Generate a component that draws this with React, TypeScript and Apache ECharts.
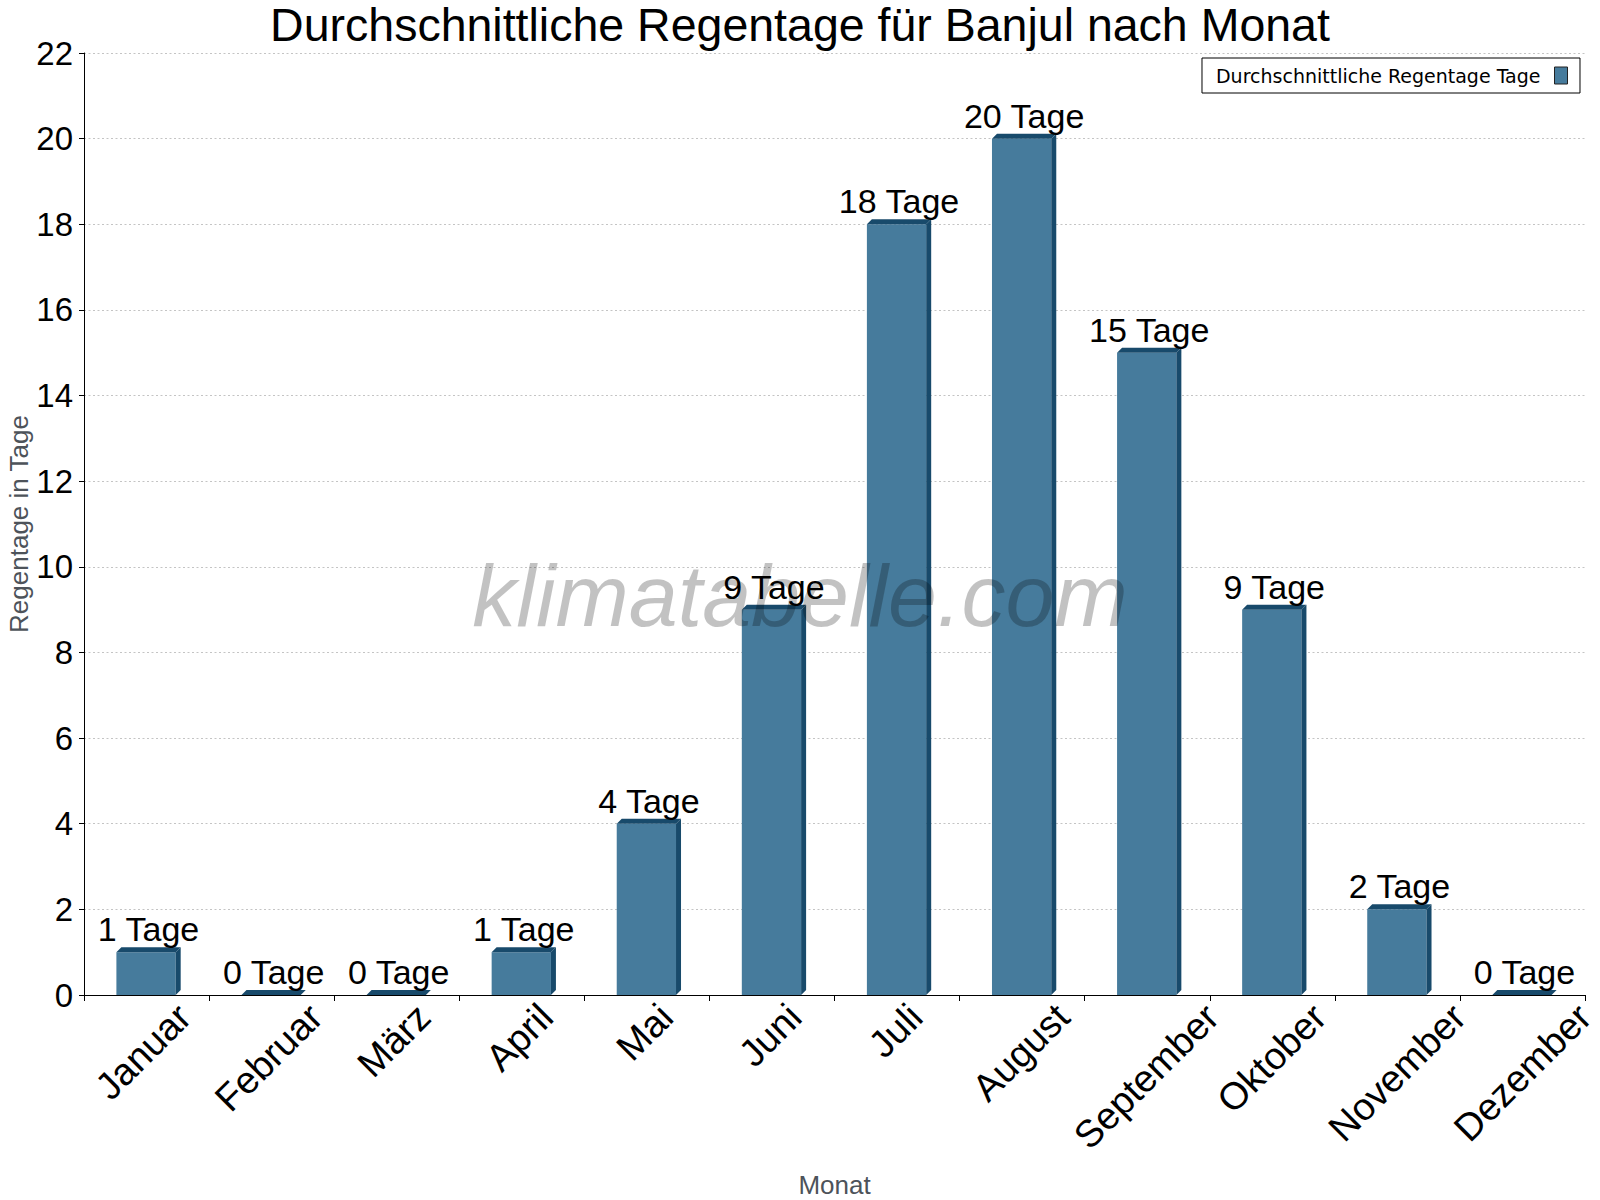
import React, { useEffect, useRef } from 'react';
import * as echarts from 'echarts';

const TITLE = 'Durchschnittliche Regentage für Banjul nach Monat';
const MONTHS = ['Januar', 'Februar', 'März', 'April', 'Mai', 'Juni', 'Juli', 'August', 'September', 'Oktober', 'November', 'Dezember'];
const RAIN_DAYS = [1, 0, 0, 1, 4, 9, 18, 20, 15, 9, 2, 0];
const UNIT = 'Tage';
const SERIES_NAME = 'Durchschnittliche Regentage Tage';
const Y_NAME = 'Regentage in Tage';
const X_NAME = 'Monat';
const WATERMARK = 'klimatabelle.com';
const Y_MIN = 0;
const Y_MAX = 22;
const Y_STEP = 2;

const FONT = '"Liberation Sans", Arial, sans-serif';
const FRONT = '#467b9c';
const DARK = '#184a6b';
const XLABEL_FS = 38;
const DATA_FS = 34;
const LABEL_MARGIN = -64;
const DEPTH = 5;

function measure(text: string, fs: number): number {
  const c = document.createElement('canvas').getContext('2d');
  if (!c) return text.length * fs * 0.55;
  c.font = `${fs}px "Liberation Sans"`;
  return c.measureText(text).width;
}

export default function App() {
  const ref = useRef<HTMLDivElement>(null);

  useEffect(() => {
    document.body.style.margin = '0';
    const chart = echarts.init(ref.current as HTMLDivElement, null, { renderer: 'svg' });

    // per-label offsets so that each rotated label sits like in the reference
    const rich: Record<string, any> = {};
    const xh = 0.1725 * XLABEL_FS * 0.7071;
    MONTHS.forEach((m, i) => {
      const tw = measure(m, XLABEL_FS);
      const DX = 7 + 0.3 * i + 0.354 * tw + xh - 15;
      const DY = 14 + xh - 3 - LABEL_MARGIN;
      const pr = Math.max(0, 0.7071 * (DY - DX));
      const pt = Math.max(0, 0.7071 * (DX + DY) - XLABEL_FS / 2);
      rich['m' + i] = {
        fontSize: XLABEL_FS,
        fontFamily: FONT,
        color: '#000',
        padding: [pt, pr, 0, 0],
      };
    });

    const renderItem = (params: any, api: any) => {
      const idx = api.value(0);
      const v = api.value(1);
      const base = api.coord([idx, 0]);
      const top = api.coord([idx, v]);
      const band = api.size([1, 0])[0];
      const w = band * 0.474;
      const x0 = base[0] - w / 2 - 0.5;
      const x1 = x0 + w;
      const yb = base[1];
      const yt = top[1];
      const d = DEPTH;
      const children: any[] = [];
      if (v > 0) {
        children.push({
          type: 'rect',
          shape: { x: x0, y: yt, width: w, height: yb - yt },
          style: { fill: FRONT },
        });
        children.push({
          type: 'polygon',
          shape: { points: [[x1, yt], [x1 + d, yt - d], [x1 + d, yb - d], [x1, yb]] },
          style: { fill: DARK },
        });
      }
      children.push({
        type: 'polygon',
        shape: { points: [[x0, yt], [x0 + d, yt - d], [x1 + d, yt - d], [x1, yt]] },
        style: { fill: DARK },
      });
      children.push({
        type: 'text',
        style: {
          text: `${v} ${UNIT}`,
          x: x0 + (w + d) / 2,
          y: yt - d - 6.3 - 0.3465 * DATA_FS,
          align: 'center',
          verticalAlign: 'middle',
          fontSize: DATA_FS,
          fontFamily: FONT,
          fill: '#000',
        },
      });
      return { type: 'group', children };
    };

    chart.setOption({
      animation: false,
      backgroundColor: '#ffffff',
      title: {
        text: TITLE,
        left: 'center',
        top: 1,
        padding: 0,
        textStyle: { fontSize: 46.5, fontWeight: 'normal', fontFamily: FONT, color: '#000' },
      },
      legend: {
        data: [{ name: SERIES_NAME, icon: 'rect' }],
        right: 20,
        top: 58,
        orient: 'horizontal',
        align: 'right',
        padding: [8, 12, 8, 14],
        borderColor: '#000',
        borderWidth: 1,
        itemWidth: 13,
        itemHeight: 17,
        itemStyle: { borderColor: '#222', borderWidth: 1 },
        textStyle: { fontSize: 19, fontFamily: '"DejaVu Sans", sans-serif', color: '#000', padding: [0, 9, 0, 0] },
      },
      grid: { left: 84, right: 15, top: 53, bottom: 205, containLabel: false, outerBoundsMode: 'none' },
      xAxis: {
        type: 'category',
        data: MONTHS,
        boundaryGap: true,
        name: X_NAME,
        nameLocation: 'middle',
        nameGap: 177,
        nameMoveOverlap: false,
        nameTextStyle: { fontSize: 26, fontFamily: FONT, color: '#4d535a' },
        axisLine: { show: true, lineStyle: { color: '#000', width: 1 } },
        axisTick: { show: true, length: 6, interval: 0, lineStyle: { color: '#000', width: 1 } },
        axisLabel: {
          interval: 0,
          rotate: 45,
          align: 'right',
          verticalAlign: 'top',
          margin: LABEL_MARGIN,
          hideOverlap: false,
          fontSize: XLABEL_FS,
          fontFamily: FONT,
          color: '#000',
          formatter: (val: string, i: number) => `{m${i}|${val}}`,
          rich,
        },
        splitLine: { show: false },
      },
      yAxis: {
        type: 'value',
        min: Y_MIN,
        max: Y_MAX,
        interval: Y_STEP,
        name: Y_NAME,
        nameLocation: 'middle',
        nameGap: 52,
        nameRotate: 90,
        nameMoveOverlap: false,
        nameTextStyle: { fontSize: 26, fontFamily: FONT, color: '#4d535a' },
        axisLine: { show: true, lineStyle: { color: '#000', width: 1 } },
        axisTick: { show: true, length: 5, lineStyle: { color: '#000', width: 1 } },
        axisLabel: { fontSize: 33, fontFamily: FONT, color: '#000', margin: 11 },
        splitLine: { show: true, lineStyle: { color: '#c4c4c4', type: [2, 2.5], width: 1 } },
      },
      series: [
        {
          type: 'custom',
          name: SERIES_NAME,
          renderItem,
          itemStyle: { color: FRONT },
          encode: { x: 0, y: 1 },
          data: MONTHS.map((m, i) => [i, RAIN_DAYS[i]]),
          z: 2,
        },
      ],
      graphic: [
        {
          type: 'text',
          x: 800,
          y: 595,
          z: 10,
          silent: true,
          style: {
            text: WATERMARK,
            font: `italic 88px ${FONT}`,
            fill: 'rgba(0,0,0,0.24)',
            align: 'center',
            verticalAlign: 'middle',
            textAlign: 'center',
            textVerticalAlign: 'middle',
          },
        },
      ],
    });

    return () => {
      chart.dispose();
    };
  }, []);

  return <div ref={ref} style={{ position: 'fixed', left: 0, top: 0, width: 1600, height: 1200 }} />;
}
